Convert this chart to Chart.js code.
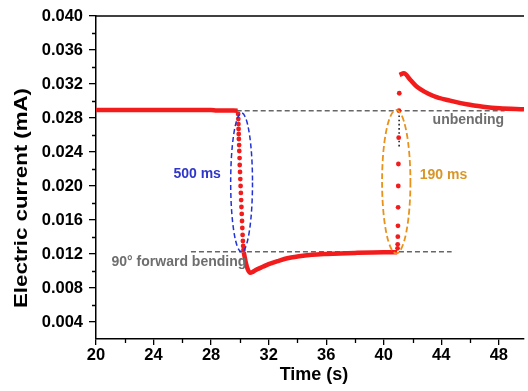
<!DOCTYPE html>
<html>
<head>
<meta charset="utf-8">
<script src="https://cdn.jsdelivr.net/npm/chart.js@4.4.1/dist/chart.umd.min.js"></script>
<style>
  html, body { margin: 0; padding: 0; background: #ffffff; }
  canvas { display: block; }
</style>
</head>
<body>
<canvas id="chart" width="528" height="391"></canvas>
<script>
// Axis ticks
const xTicks = [20, 24, 28, 32, 36, 40, 44, 48];
const xMinorTicks = [22, 26, 30, 34, 38, 42, 46];
const yTicks = [0.004, 0.008, 0.012, 0.016, 0.020, 0.024, 0.028, 0.032, 0.036, 0.040];
const yMinorTicks = [0.006, 0.010, 0.014, 0.018, 0.022, 0.026, 0.030, 0.034, 0.038];

// Unbent steady state before bending
const steadyTime    = [20, 24, 28, 28.4, 29.0, 29.85];
const steadyCurrent = [0.02893, 0.02893, 0.02893, 0.02888, 0.02888, 0.02886];

// Sampled points during the 500 ms bending transition
const dropTime    = [29.88, 29.89, 29.90, 29.91, 29.92, 29.93, 29.95, 29.96, 29.98, 29.99, 30.01, 30.03, 30.05,
                     30.07, 30.09, 30.11, 30.13, 30.15, 30.17, 30.19, 30.21, 30.23, 30.25];
const dropCurrent = [0.02847, 0.02788, 0.02729, 0.02671, 0.02612, 0.02553, 0.02482, 0.02412, 0.02329, 0.02247,
                     0.02165, 0.02082, 0.02000, 0.01918, 0.01835, 0.01753, 0.01671, 0.01588, 0.01506, 0.01424,
                     0.01353, 0.01294, 0.01247];

// Bent state (undershoot and recovery)
const bentTime    = [30.27, 30.4, 30.55, 30.72, 30.9, 31.2, 31.6, 32, 32.7, 33.3, 34, 35, 36, 38, 40, 40.93];
const bentCurrent = [0.0122, 0.0111, 0.0102, 0.0098, 0.0099, 0.0102, 0.0105, 0.0108, 0.0112, 0.0115, 0.0117,
                     0.0119, 0.0120, 0.01213, 0.0122, 0.0122];

// Sampled points during the 190 ms release transition
const riseTime    = [40.96, 40.97, 40.98, 40.99, 41.00, 41.01, 41.02, 41.04, 41.06, 41.08];
const riseCurrent = [0.01267, 0.01314, 0.01404, 0.01532, 0.01749, 0.02000, 0.02259, 0.02568, 0.02886, 0.03091];

// Overshoot and relaxation after release
const relaxTime    = [41.10, 41.4, 41.86, 42.31, 43.46, 44.61, 45.76, 46.9, 48.05, 49.75];
const relaxCurrent = [0.03306, 0.03326, 0.03247, 0.03168, 0.03059, 0.03004, 0.02961, 0.02933, 0.02914, 0.02902];

// Reference levels
const unbendingTime    = [27.0, 48.4];
const unbendingCurrent = [0.02886, 0.02886];
const bendingTime      = [26.6, 44.72];
const bendingCurrent   = [0.01227, 0.01227];
const guideTime        = [41.07, 41.07];
const guideCurrent     = [0.0283, 0.0245];

const pts = (xs, ys) => xs.map((x, i) => ({ x: x, y: ys[i] }));

const FONT = '"Liberation Sans", Arial, Helvetica, sans-serif';
const RED = '#f21c1c';

const annotations = {
  id: 'annotations',
  afterDatasetsDraw(chart) {
    const { ctx, scales: { x, y }, chartArea } = chart;
    ctx.save();

    // top frame line
    ctx.strokeStyle = '#000';
    ctx.lineWidth = 1.5;
    ctx.beginPath();
    ctx.moveTo(chartArea.left, chartArea.top);
    ctx.lineTo(chartArea.right, chartArea.top);
    ctx.stroke();

    // minor ticks
    ctx.lineWidth = 1.3;
    ctx.beginPath();
    yMinorTicks.forEach(v => {
      const py = Math.round(y.getPixelForValue(v)) + 0.5;
      ctx.moveTo(chartArea.left, py);
      ctx.lineTo(chartArea.left - 4, py);
    });
    xMinorTicks.forEach(v => {
      const px = Math.round(x.getPixelForValue(v)) + 0.5;
      ctx.moveTo(px, chartArea.bottom);
      ctx.lineTo(px, chartArea.bottom + 4);
    });
    ctx.stroke();

    // transition ellipses
    const ellipse = (t, v, rt, rv, color, dash, w) => {
      const cx = x.getPixelForValue(t), cy = y.getPixelForValue(v);
      const rx = Math.abs(x.getPixelForValue(t + rt) - cx);
      const ry = Math.abs(y.getPixelForValue(v + rv) - cy);
      ctx.strokeStyle = color;
      ctx.lineWidth = w;
      ctx.setLineDash(dash);
      ctx.beginPath();
      ctx.ellipse(cx, cy, rx, ry, 0, 0, Math.PI * 2);
      ctx.stroke();
      ctx.setLineDash([]);
    };
    ellipse(30.12, 0.02041, 0.758, 0.00818, '#2233d6', [5, 3], 1.5);
    ellipse(40.87, 0.02051, 0.985, 0.00844, '#e8921c', [6, 3], 1.8);

    // labels
    const label = (text, t, v, color, align) => {
      ctx.font = 'bold 14px ' + FONT;
      ctx.fillStyle = color;
      ctx.textAlign = align;
      ctx.textBaseline = 'alphabetic';
      ctx.fillText(text, x.getPixelForValue(t), y.getPixelForValue(v));
    };
    label('500 ms', 28.68, 0.02094, '#3036c8', 'right');
    label('190 ms', 42.5, 0.02088, '#d99626', 'left');
    label('unbending', 48.37, 0.02724, '#6e6e6e', 'right');
    label('90° forward bending', 21.08, 0.01053, '#6e6e6e', 'left');

    // axis titles
    ctx.fillStyle = '#000';
    ctx.font = 'bold 18px ' + FONT;
    ctx.textAlign = 'center';
    ctx.textBaseline = 'alphabetic';
    ctx.fillText('Time (s)', 314, 380);

    ctx.save();
    ctx.translate(27, 198);
    ctx.rotate(-Math.PI / 2);
    ctx.font = 'bold 19px ' + FONT;
    const title = 'Electric current (mA)';
    const w = ctx.measureText(title).width;
    ctx.scale(220 / w, 1);
    ctx.textAlign = 'center';
    ctx.fillText(title, 0, 0);
    ctx.restore();

    ctx.restore();
  }
};

new Chart(document.getElementById('chart'), {
  type: 'scatter',
  data: {
    datasets: [
      { data: pts(steadyTime, steadyCurrent), showLine: true, borderColor: RED, borderWidth: 4.5,
        pointRadius: 0, cubicInterpolationMode: 'monotone' },
      { data: pts(dropTime, dropCurrent), showLine: false, pointRadius: 2.4, pointBackgroundColor: RED,
        pointBorderWidth: 0 },
      { data: pts(bentTime, bentCurrent), showLine: true, borderColor: RED, borderWidth: 4.5,
        pointRadius: 0, cubicInterpolationMode: 'monotone' },
      { data: pts(riseTime, riseCurrent), showLine: false, pointRadius: 2.4, pointBackgroundColor: RED,
        pointBorderWidth: 0 },
      { data: pts(relaxTime, relaxCurrent), showLine: true, borderColor: RED, borderWidth: 4.5,
        pointRadius: 0, cubicInterpolationMode: 'monotone' },
      { data: pts(guideTime, guideCurrent), showLine: true, borderColor: '#222', borderWidth: 1.6,
        borderDash: [1.6, 2.6], pointRadius: 0 },
      { data: pts(unbendingTime, unbendingCurrent), showLine: true, borderColor: '#666', borderWidth: 1.5,
        borderDash: [5, 3], pointRadius: 0 },
      { data: pts(bendingTime, bendingCurrent), showLine: true, borderColor: '#666', borderWidth: 1.5,
        borderDash: [5, 3], pointRadius: 0 }
    ]
  },
  options: {
    responsive: false,
    animation: false,
    devicePixelRatio: 1,
    layout: { padding: { top: 16, right: 0, left: 0, bottom: 0 } },
    plugins: { legend: { display: false }, tooltip: { enabled: false } },
    scales: {
      x: {
        type: 'linear', min: 20, max: 49.75,
        afterBuildTicks: s => { s.ticks = xTicks.map(v => ({ value: v })); },
        afterFit: s => { s.height = 52; },
        ticks: { color: '#000', padding: 1, font: { family: FONT, size: 16.5, weight: 'bold' },
                 maxRotation: 0, callback: v => String(v) },
        grid: { drawOnChartArea: false, drawTicks: true, tickLength: 6, color: '#000', lineWidth: 1.3 },
        border: { display: true, color: '#000', width: 1.5 }
      },
      y: {
        type: 'linear', min: 0.002, max: 0.040,
        afterBuildTicks: s => { s.ticks = yTicks.map(v => ({ value: v })); },
        afterFit: s => { s.width = 96; },
        ticks: { color: '#000', padding: 6, font: { family: FONT, size: 16.5, weight: 'bold' },
                 callback: v => v.toFixed(3) },
        grid: { drawOnChartArea: false, drawTicks: true, tickLength: 7, color: '#000', lineWidth: 1.3 },
        border: { display: true, color: '#000', width: 1.5 }
      }
    }
  },
  plugins: [annotations]
});
</script>
</body>
</html>
